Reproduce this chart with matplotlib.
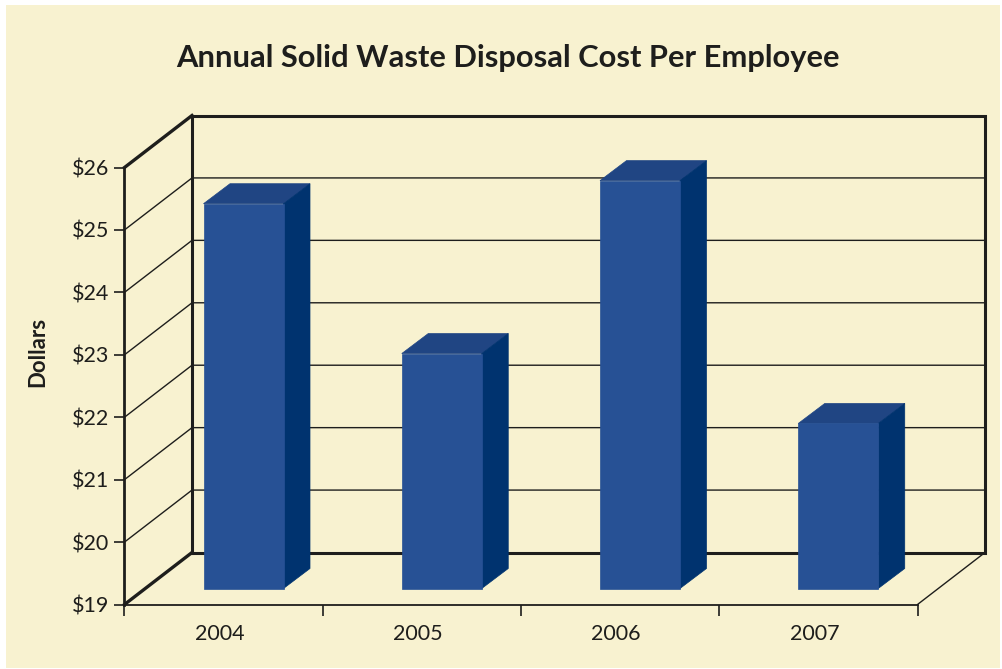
import matplotlib.pyplot as plt
from matplotlib.patches import Polygon, Rectangle

plt.rcParams['font.family'] = ['Lato', 'DejaVu Sans']

years = ['2004', '2005', '2006', '2007']
costs = [25.42, 23.02, 25.79, 21.90]
y_ticks = [19, 20, 21, 22, 23, 24, 25, 26]
y_labels = ['$19', '$20', '$21', '$22', '$23', '$24', '$25', '$26']

W, H = 1003, 669
BG = '#f8f2d0'
INK = '#1e1e1c'
FRONT = '#275195'
TOP = '#204583'
SIDE = '#00336f'

fig = plt.figure(figsize=(W / 100, H / 100), dpi=100, facecolor='white')
fig.patches.append(Rectangle((6 / W, 1 - 668 / H), 994 / W, 663 / H, transform=fig.transFigure,
                             facecolor=BG, edgecolor='none', zorder=-5))

# front plane of the chart box, in pixels: x 124-917, y 604-167
ax = fig.add_axes([124.5 / W, 1 - 604.5 / H, 793 / W, 437 / H])
ax.patch.set_visible(False)
ax.set_xlim(0, 4)
ax.set_ylim(19, 26)

# depth of the box and of the bars, in data units
dx, dy = 67.5 / 198.25, 52 / 62.43
bar_w = 80 / 198.25
bar_x = 79 / 198.25
bar_y = 16 / 62.43
bar_dx, bar_dy = 26.5 / 198.25, 20 / 62.43

# back wall and side wall
for v in y_ticks[1:-1]:
    ax.plot([0, dx, 4 + dx], [v, v + dy, v + dy], color=INK, lw=1.0, clip_on=False, zorder=1)
ax.plot([dx, dx, 4 + dx, 4 + dx, dx], [19 + dy, 26 + dy, 26 + dy, 19 + dy, 19 + dy],
        color=INK, lw=2.2, clip_on=False, zorder=2, solid_joinstyle='miter')
ax.plot([0, dx], [26, 26 + dy], color=INK, lw=2.4, clip_on=False, zorder=2)
ax.plot([0, dx], [19, 19 + dy], color=INK, lw=2.4, clip_on=False, zorder=2)
ax.plot([4, 4 + dx], [19, 19 + dy], color=INK, lw=1.0, clip_on=False, zorder=2)

# bars with their top and side faces
base = 19 + bar_y
for i, c in enumerate(costs):
    x0 = i + bar_x
    x1 = x0 + bar_w
    ax.add_patch(Polygon([(x0, c), (x1, c), (x1 + bar_dx, c + bar_dy), (x0 + bar_dx, c + bar_dy)],
                         facecolor=TOP, edgecolor=TOP, lw=0.5, zorder=4, clip_on=False))
    ax.add_patch(Polygon([(x1, base), (x1, c), (x1 + bar_dx, c + bar_dy), (x1 + bar_dx, base + bar_dy)],
                         facecolor=SIDE, edgecolor=SIDE, lw=0.5, zorder=4, clip_on=False))
    ax.bar(x0, c - base, bottom=base, width=bar_w, align='edge', color=FRONT, edgecolor=FRONT, lw=0.5,
           zorder=5, clip_on=False)

ax.spines[['top', 'right']].set_visible(False)
ax.spines['left'].set_linewidth(2.0)
ax.spines['left'].set_color(INK)
ax.spines['bottom'].set_linewidth(1.3)
ax.spines['bottom'].set_color(INK)

ax.set_yticks(y_ticks, y_labels, fontsize=15.5, color=INK)
ax.tick_params(axis='y', length=7, width=1.2, color=INK, pad=4)
ax.set_xticks(range(5), [''] * 5)
ax.tick_params(axis='x', which='major', length=8, width=1.2, color=INK)
ax.set_xticks([i + 0.48 for i in range(4)], years, minor=True, fontsize=15.5, color=INK)
ax.tick_params(axis='x', which='minor', length=0, pad=14)

fig.text(38 / W, 1 - 352 / H, 'Dollars', rotation=90, ha='center', va='center',
         fontsize=16, fontweight='bold', color=INK)
fig.text(508 / W, 1 - 58 / H, 'Annual Solid Waste Disposal Cost Per Employee', ha='center', va='center',
         fontsize=22.2, fontweight='bold', color=INK)

fig.savefig('out.png', dpi=100, facecolor='white')
